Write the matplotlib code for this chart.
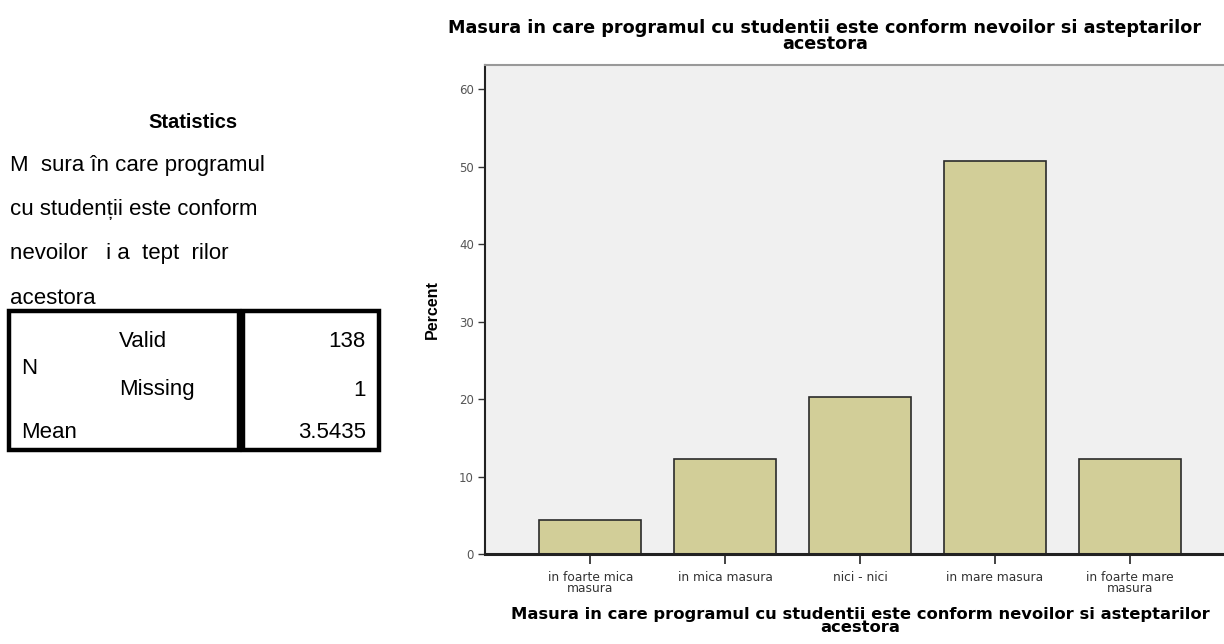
import numpy as np
import matplotlib
matplotlib.use("Agg")
from matplotlib import pyplot as plt
from matplotlib.patches import Rectangle

plt.rcParams['font.family'] = ['Liberation Sans', 'DejaVu Sans']

# data
categories = ["in foarte mica\nmasura", "in mica masura", "nici - nici",
              "in mare masura", "in foarte mare\nmasura"]
percent = [4.35, 12.32, 20.29, 50.72, 12.32]
yticks = [0, 10, 20, 30, 40, 50, 60]

title = "Masura in care programul cu studentii este conform nevoilor si asteptarilor\nacestora"

stat_title = "Statistics"
stat_lines = ["M  sura în care programul", "cu studenții este conform",
              "nevoilor   i a  tept  rilor", "acestora"]
row_labels = ["Valid", "Missing"]
row_values = ["138", "1"]
mean_value = "3.5435"

W, H = 1224, 644
fig = plt.figure(figsize=(W / 100, H / 100), dpi=100)
fig.patch.set_facecolor("white")

def fx(x):
    return x / W

def fy(y):
    return 1 - y / H

# ---- left panel (statistics table) ----
fig.text(fx(193), fy(123), stat_title, ha="center", va="center",
         fontsize=14.5, fontweight="bold")
for i, line in enumerate(stat_lines):
    fig.text(fx(10), fy(165 + 44.5 * i), line, ha="left", va="center", fontsize=16)

fig.patches.append(Rectangle((fx(9), fy(450)), fx(239 - 9), (450 - 311) / H,
                             transform=fig.transFigure, fill=False, lw=3.2,
                             edgecolor="black"))
fig.patches.append(Rectangle((fx(243), fy(450)), fx(379 - 243), (450 - 311) / H,
                             transform=fig.transFigure, fill=False, lw=3.2,
                             edgecolor="black"))
fig.text(fx(21), fy(368), "N", ha="left", va="center", fontsize=16)
for i, (lab, val) in enumerate(zip(row_labels, row_values)):
    fig.text(fx(119), fy(342 + 48 * i), lab, ha="left", va="center", fontsize=16)
    fig.text(fx(366), fy(342 + 48 * i), val, ha="right", va="center", fontsize=16)
fig.text(fx(21), fy(433), "Mean", ha="left", va="center", fontsize=16)
fig.text(fx(366), fy(433), mean_value, ha="right", va="center", fontsize=16)

# ---- bar chart ----
ax = fig.add_axes([fx(485), 1 - 554 / H, (1235 - 485) / W, (554 - 65) / H])
ax.set_facecolor("#f0f0f0")
x = np.arange(len(categories))
ax.bar(x, percent, width=0.755, color="#d2ce98", edgecolor="#2b2b2b", linewidth=1.2,
       zorder=2)
ax.set_xlim(-0.78, len(categories) - 1 + 0.78)
ax.set_ylim(0, 63.1)
ax.set_yticks(yticks)
ax.set_yticklabels([str(t) for t in yticks], fontsize=8.5, color="#555555",
                   family="DejaVu Sans")
ax.set_xticks(x)
ax.set_xticklabels(categories, fontsize=8.8, color="#333333", linespacing=0.85,
                   family="DejaVu Sans")
ax.tick_params(axis="y", length=5, width=1, color="#333333", pad=3)
ax.tick_params(axis="x", length=7, width=1.2, color="#222222", pad=5)

for s in ["top", "right"]:
    ax.spines[s].set_color("#999999")
    ax.spines[s].set_linewidth(1.5)
ax.spines["left"].set_color("#222222")
ax.spines["left"].set_linewidth(1.5)
ax.spines["bottom"].set_color("#222222")
ax.spines["bottom"].set_linewidth(2.2)

ax.set_ylabel("Percent", fontsize=11.5, fontweight="bold", labelpad=14)

fig.text(fx(825), fy(36), title, ha="center", va="center", fontsize=12.7,
         fontweight="bold", linespacing=0.85, family="DejaVu Sans")
fig.text(fx(860), fy(621), title, ha="center", va="center", fontsize=11.8,
         fontweight="bold", linespacing=0.85, family="DejaVu Sans")

plt.savefig("out.png", dpi=100)
